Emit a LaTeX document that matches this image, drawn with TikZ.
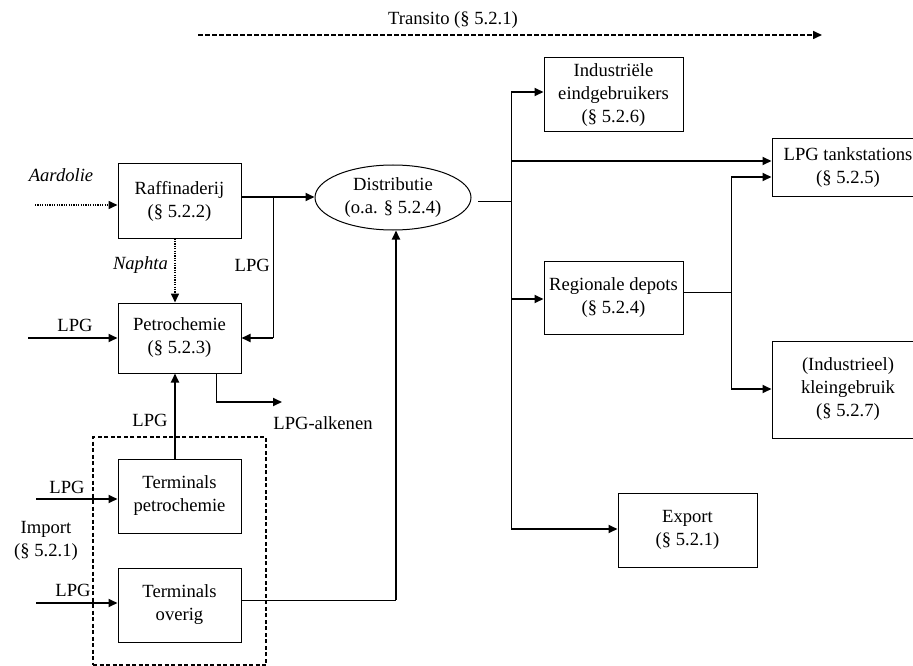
\documentclass[tikz,border=0pt]{standalone}
\usepackage{fontspec}
\setmainfont{Liberation Serif}
\usetikzlibrary{arrows.meta,shapes.geometric}
\begin{document}
\begin{tikzpicture}[x=1pt,y=-1pt,
  every node/.style={font=\fontsize{18.6}{23}\selectfont},
  box/.style={draw,line width=1pt,align=center,inner sep=0pt,
    minimum width=123pt,minimum height=74pt},
  wire/.style={line width=1pt},
  flow/.style={line width=1.8pt,-{Triangle[length=9pt,width=8pt]}},
  dotflow/.style={line width=1.6pt,dash pattern=on 1.2pt off 1.2pt,
    -{Triangle[length=9pt,width=8pt]}},
  dashflow/.style={line width=1.6pt,dash pattern=on 4.5pt off 2.5pt,
    -{Triangle[length=9pt,width=8pt]}},
  lbl/.style={inner sep=0pt,align=center}]
\useasboundingbox (0,0) rectangle (913,666);

% import terminals frame
\node[draw,line width=1.5pt,dash pattern=on 4pt off 2.5pt,inner sep=0pt,
  minimum width=173pt,minimum height=228pt] (imp) at (179.5,551) {};

% process boxes
\node[box] (raff) at (179.5,201) {Raffinaderij\\(§ 5.2.2)};
\node[box,minimum height=70pt] (petro) at (179.5,338) {Petrochemie\\(§ 5.2.3)};
\node[box] (tpet) at (179.5,496) {Terminals\\petrochemie};
\node[box] (tov) at (179.5,605) {Terminals\\overig};
\node[draw,ellipse,line width=1pt,minimum width=156pt,minimum height=65pt,
  inner sep=0pt,align=center] (dist) at (393,197.5) {Distributie\\(o.a. § 5.2.4)};
\node[box,minimum width=139pt] (ind) at (613.5,95) {Industriële\\eindgebruikers\\(§ 5.2.6)};
\node[box,minimum width=152pt,minimum height=57pt] (tank) at (848,167.5) {LPG tankstations\\(§ 5.2.5)};
\node[box,minimum width=139pt,minimum height=73pt] (reg) at (613.5,297.5) {Regionale depots\\(§ 5.2.4)};
\node[box,minimum width=152pt,minimum height=97pt] (klein) at (848,389.5) {(Industrieel)\\kleingebruik\\(§ 5.2.7)};
\node[box,minimum width=139pt] (exp) at (687.5,530) {Export\\(§ 5.2.1)};

% transit
\node[lbl] (transit) at (453,20) {Transito (§ 5.2.1)};
\coordinate (trA) at (198,35);
\coordinate (trB) at (822,35);
\draw[dashflow] (trA) -- (trB);

% crude oil into the refinery
\coordinate (aardIn) at (35,205);
\draw[dotflow] (aardIn) -- (aardIn -| raff.west);
\node[lbl] (aardLbl) at (61,175) {\itshape Aardolie};

% refinery to distribution, with LPG branch to petrochemistry
\coordinate (split) at (273,197);
\draw[flow] (split -| raff.east) -- (split -| dist.west);
\draw[wire] (split) -- (split |- petro.east);
\draw[flow] (split |- petro.east) -- (petro.east);
\node[lbl,anchor=east] (lpgR) at (270,265) {LPG};

% naphtha
\draw[dotflow] ([xshift=-4.5pt]raff.south) -- ([xshift=-4.5pt]petro.north);
\node[lbl,anchor=east] (naphLbl) at (168,265) {\itshape Naphta};

% LPG into petrochemistry
\coordinate (lpgP) at (28,338);
\draw[flow] (lpgP) -- (petro.west);
\node[lbl] (lpgPLbl) at (75,325) {LPG};

% terminals petrochemistry up to petrochemistry
\draw[flow] ([xshift=-4.5pt]tpet.north) -- ([xshift=-4.5pt]petro.south);
\node[lbl] (lpgTLbl) at (150,420) {LPG};

% alkenes out
\coordinate (alk) at (216,402);
\coordinate (alkEnd) at (282,402);
\draw[wire] (alk |- petro.south) -- (alk);
\draw[flow] (alk) -- (alkEnd);
\node[lbl] (alkLbl) at (323,423) {LPG-alkenen};

% import
\coordinate (lpgT) at (36,499);
\draw[flow] (lpgT) -- (lpgT -| tpet.west);
\node[lbl] (lpgTInLbl) at (67,487) {LPG};
\coordinate (lpgO) at (36,603);
\draw[flow] (lpgO) -- (lpgO -| tov.west);
\node[lbl] (lpgOInLbl) at (73,590) {LPG};
\node[lbl] (impLbl) at (46,541) {Import\\(§ 5.2.1)};

% other terminals to distribution
\coordinate (ovUp) at (396,600);
\draw[wire] (ovUp -| tov.east) -- (ovUp);
\draw[flow] (ovUp) -- (ovUp |- dist.south);

% distribution trunk
\coordinate (distOut) at (478,201);
\coordinate (trunkMid) at (511,201);
\draw[wire] (distOut) -- (trunkMid);
\coordinate (tTop) at (511,92);
\coordinate (tBot) at (511,529);
\coordinate (tTank) at (511,161);
\coordinate (tReg) at (511,299);
\draw[wire] (tTop) -- (tBot);
\draw[flow] (tTop) -- (tTop -| ind.west);
\draw[flow] (tTank) -- (tTank -| tank.west);
\draw[flow] (tReg) -- (tReg -| reg.west);
\draw[flow] (tBot) -- (tBot -| exp.west);

% regional depots
\coordinate (rj) at (731,292);
\coordinate (rjTop) at (731,177);
\coordinate (rjBot) at (731,389);
\draw[wire] (rj -| reg.east) -- (rj);
\draw[wire] (rjTop) -- (rjBot);
\draw[flow] (rjTop) -- (rjTop -| tank.west);
\draw[flow] (rjBot) -- (rjBot -| klein.west);
\end{tikzpicture}
\end{document}
